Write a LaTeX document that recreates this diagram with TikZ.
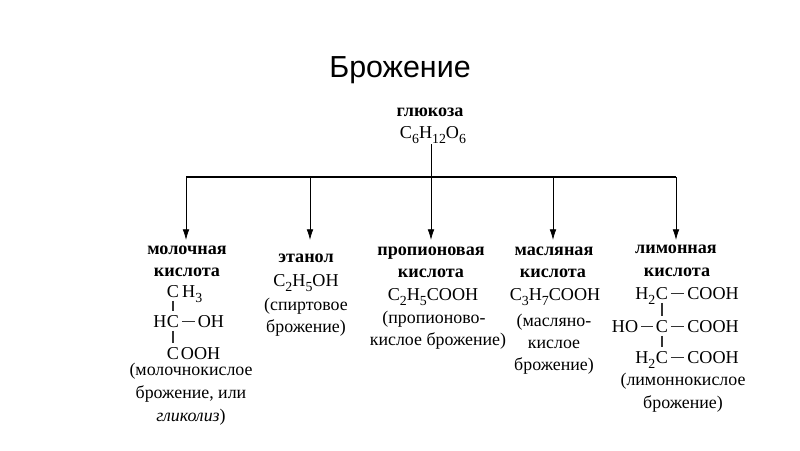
\documentclass[tikz,border=0pt]{standalone}
\usepackage{fontspec}
\setmainfont{Liberation Serif}
\newfontfamily\titlefont{Liberation Sans}
\newcommand{\dn}[1]{\raisebox{-0.28em}{\fontsize{10.4}{10}\selectfont #1}}
\usetikzlibrary{arrows.meta}
\tikzset{
  x=0.75pt,y=-0.75pt,
  lbl/.style={inner sep=0pt,anchor=base,font=\fontsize{13.4}{14}\selectfont},
  head/.style={inner sep=0pt,anchor=base,font=\fontsize{13.6}{13}\selectfont\bfseries},
  chem/.style={inner sep=0pt,anchor=base,font=\fontsize{13.6}{14}\selectfont},
  ttl/.style={inner sep=0pt,anchor=base,font=\fontsize{22.8}{24}\selectfont\titlefont},
  bus/.style={line width=1.5pt,black},
  arrowline/.style={line width=0.6pt,black,-{Latex[length=8pt,width=5pt]}},
  bond/.style={line width=0.8pt,black!80},
}
\begin{document}
\begin{tikzpicture}
\useasboundingbox (0,0) rectangle (800,450);
\fill[white] (0,0) rectangle (800,450);
\node[ttl] (title) at (400,77) {Брожение};
\node[head] (gluc) at (430,116) {глюкоза};
\node[chem] (glucf) at (433,138) {C\dn{6}H\dn{12}O\dn{6}};
\coordinate (bL) at (186,177);
\coordinate (bR) at (676,177);
\coordinate (bM) at (431,177);
\coordinate (bA) at (310,177);
\coordinate (bB) at (553,177);
\coordinate (t1) at (186,240);
\coordinate (t2) at (310,240);
\coordinate (t3) at (431,240);
\coordinate (t4) at (553,240);
\coordinate (t5) at (676,240);
\coordinate (topM) at (431,144);
\draw[bus] (bL) -- (bR);
\draw[line width=0.6pt] (topM) -- (bM);
\foreach \a/\b in {bL/t1,bA/t2,bM/t3,bB/t4,bR/t5} \draw[arrowline] (\a) -- (\b);

% lactic
\node[head] (a1) at (187,254) {молочная};
\node[head] (a2) at (187,276) {кислота};
\node[chem] (lc1) at (173,297) {C};
\node[chem,anchor=base west] (lh3) at ([xshift=2]lc1.base east) {H\dn{3}};
\node[chem] (lc2) at (173,327) {C};
\node[chem,anchor=base east] (lh) at (lc2.base west) {H};
\node[chem] (loh) at (211,327) {OH};
\node[chem] (lc3) at (173,359) {C};
\node[chem,anchor=base west] (looh) at ([xshift=1]lc3.base east) {OOH};
\draw[bond,shorten <=2.5pt,shorten >=2.5pt] (lc1) -- (lc2);
\draw[bond,shorten <=2.5pt,shorten >=2.5pt] (lc2) -- (lc3);
\draw[bond,shorten <=2pt,shorten >=2pt] (lc2) -- (loh);
\node[lbl] (a3) at (191,375) {(молочнокислое};
\node[lbl] (a4) at (191,398) {брожение, или};
\node[lbl] (a5) at (191,421) {\textit{гликолиз})};

% ethanol
\node[head] (b1) at (306,262) {этанол};
\node[chem] (b2) at (306,286) {C\dn{2}H\dn{5}OH};
\node[lbl] (b3) at (306,310) {(спиртовое};
\node[lbl] (b4) at (306,332) {брожение)};

% propionic
\node[head] (c1) at (431,255) {пропионовая};
\node[head] (c2) at (431,277) {кислота};
\node[chem] (c3) at (433,300) {C\dn{2}H\dn{5}COOH};
\node[lbl] (c4) at (434,323) {(пропионово-};
\node[lbl] (c5) at (438,345) {кислое брожение)};

% butyric
\node[head] (d1) at (554,255) {масляная};
\node[head] (d2) at (553,277) {кислота};
\node[chem] (d3) at (555,300) {C\dn{3}H\dn{7}COOH};
\node[lbl] (d4) at (554,326) {(масляно-};
\node[lbl] (d5) at (554,348) {кислое};
\node[lbl] (d6) at (554,370) {брожение)};

% citric
\node[head] (e1) at (676,253) {лимонная};
\node[head] (e2) at (677,276) {кислота};
\node[chem] (ec1) at (662,299) {C};
\node[chem,anchor=base east] (eh1) at (ec1.base west) {H\dn{2}};
\node[chem] (ea1) at (713,299) {COOH};
\node[chem] (ec2) at (662,332) {C};
\node[chem] (eho) at (625,332) {HO};
\node[chem] (ea2) at (713,332) {COOH};
\node[chem] (ec3) at (662,363) {C};
\node[chem,anchor=base east] (eh3) at (ec3.base west) {H\dn{2}};
\node[chem] (ea3) at (713,363) {COOH};
\draw[bond,shorten <=2.5pt,shorten >=2.5pt] (ec1) -- (ec2);
\draw[bond,shorten <=2.5pt,shorten >=2.5pt] (ec2) -- (ec3);
\draw[bond,shorten <=2pt,shorten >=2pt] (ec1) -- (ea1);
\draw[bond,shorten <=2pt,shorten >=2pt] (ec2) -- (ea2);
\draw[bond,shorten <=2pt,shorten >=2pt] (ec3) -- (ea3);
\draw[bond,shorten <=2pt,shorten >=2pt] (eho) -- (ec2);
\node[lbl] (e3) at (683,385) {(лимоннокислое};
\node[lbl] (e4) at (683,408) {брожение)};
\end{tikzpicture}
\end{document}
